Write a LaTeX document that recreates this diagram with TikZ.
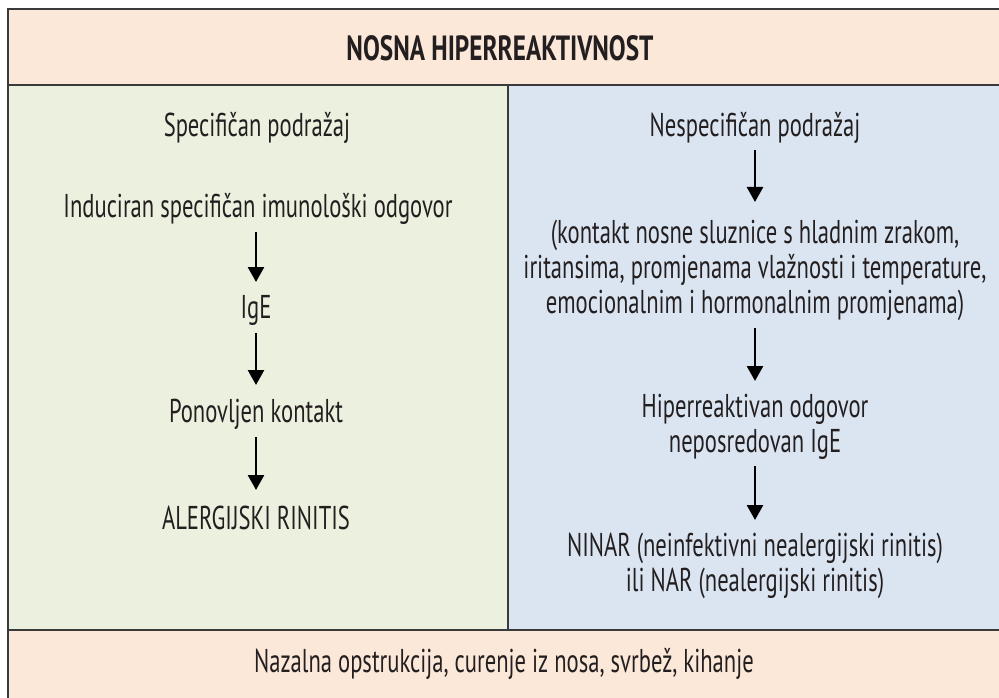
\documentclass[tikz,border=0pt]{standalone}
\usepackage{fontspec}
\setmainfont{PT Sans}[FakeStretch=0.685]
\newfontfamily\ttlfont{PT Sans}[FakeStretch=0.72]
\usetikzlibrary{arrows.meta}
\definecolor{peach}{HTML}{FCE8D8}
\definecolor{lgreen}{HTML}{EBF1DE}
\definecolor{lblue}{HTML}{DBE5F1}
\definecolor{txtc}{HTML}{231F20}
\definecolor{linec}{HTML}{3A3A3A}
\tikzset{
  txt/.style={font=\fontsize{33}{35}\selectfont, text=txtc, align=center, inner sep=0pt},
  ttl/.style={font=\ttlfont\fontsize{35}{36}\selectfont\bfseries, text=txtc, inner sep=0pt},
  arr/.style={line width=2.6pt, -{Triangle[width=16pt,length=15pt]}},
  frame/.style={line width=1.6pt, draw=linec}
}
\begin{document}
\begin{tikzpicture}[x=1pt,y=-1pt]
\useasboundingbox (0,0) rectangle (999,698);
% backgrounds
\fill[peach] (8,9) rectangle (999,85);
\fill[lgreen] (8,85) rectangle (508,630);
\fill[lblue] (508,85) rectangle (999,630);
\fill[peach] (8,630) rectangle (999,698);
% lines
\draw[frame] (999,9) -- (8,9) -- (8,698);
\draw[frame] (8,85) -- (999,85);
\draw[frame] (8,630) -- (999,630);
\draw[frame] (508,85) -- (508,630);
% title
\node[ttl] (title) at (500,48) {NOSNA HIPERREAKTIVNOST};
% left
\node[txt] (spec) at (257,128) {Specifičan podražaj};
\node[txt] (ind) at (258,209) {Induciran specifičan imunološki odgovor};
\node[txt] (ige) at (256,310) {IgE};
\node[txt] (pon) at (256,414) {Ponovljen kontakt};
\node[txt] (alr) at (256,518) {ALERGIJSKI RINITIS};
\draw[arr] ([xshift=-2pt,yshift=-23pt]ind.center) -- ([yshift=28pt]ige.center);
\draw[arr] ([yshift=-23pt]ige.center) -- ([yshift=29pt]pon.center);
\draw[arr] ([yshift=-23pt]pon.center) -- ([yshift=28pt]alr.center);
% right
\node[txt] (nesp) at (755,128) {Nespecifičan podražaj};
\node[txt] (kont) at (755,270) {(kontakt nosne sluznice s hladnim zrakom,\\iritansima, promjenama vlažnosti i temperature,\\emocionalnim i hormonalnim promjenama)};
\node[txt] (hip) at (755,427) {Hiperreaktivan odgovor\\neposredovan IgE};
\node[txt] (ninar) at (755,566) {NINAR (neinfektivni nealergijski rinitis)\\ili NAR (nealergijski rinitis)};
\draw[arr] ([yshift=-22pt]nesp.center) -- ([yshift=68pt]kont.center);
\draw[arr] ([yshift=-58pt]kont.center) -- ([yshift=46pt]hip.center);
\draw[arr] ([yshift=-39pt]hip.center) -- ([yshift=46pt]ninar.center);
% bottom
\node[txt] (bot) at (504,664) {Nazalna opstrukcija, curenje iz nosa, svrbež, kihanje};
\end{tikzpicture}
\end{document}
